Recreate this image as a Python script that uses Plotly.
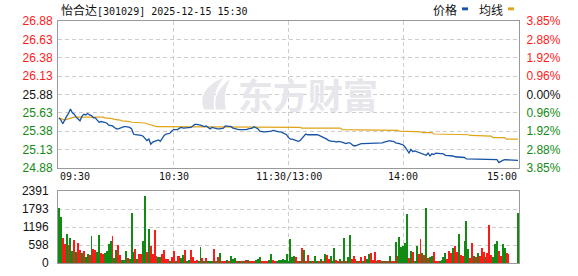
import plotly.graph_objects as go

# ---------------- data ----------------
title_text = "怡合达[301029] 2025-12-15 15:30"
prev_close = 25.88
price_ticks = [26.88, 26.63, 26.38, 26.13, 25.88, 25.63, 25.38, 25.13, 24.88]
pct_labels = ["3.85%", "2.88%", "1.92%", "0.96%", "0.00%", "0.96%", "1.92%", "2.88%", "3.85%"]
vol_ticks = [0, 598, 1196, 1793, 2391]
time_labels = ["09:30", "10:30", "11:30/13:00", "14:00", "15:00"]
time_label_idx = [0, 60, 120, 180, 240]

price = [
    25.56, 25.53, 25.48, 25.54, 25.58, 25.62, 25.68, 25.63, 25.61, 25.57,
    25.54, 25.52, 25.58, 25.61, 25.60, 25.62, 25.60, 25.59, 25.56, 25.56,
    25.53, 25.50, 25.51, 25.50, 25.49, 25.49, 25.46, 25.46, 25.45, 25.43,
    25.41, 25.41, 25.42, 25.44, 25.44, 25.44, 25.44, 25.43, 25.41, 25.34,
    25.33, 25.33, 25.33, 25.32, 25.31, 25.28, 25.25, 25.27, 25.20, 25.23,
    25.24, 25.25, 25.26, 25.24, 25.28, 25.32, 25.34, 25.34, 25.35, 25.38,
    25.40, 25.40, 25.40, 25.42, 25.43, 25.42, 25.42, 25.42, 25.42, 25.43,
    25.45, 25.47, 25.47, 25.47, 25.46, 25.45, 25.44, 25.45, 25.43, 25.41,
    25.43, 25.42, 25.41, 25.41, 25.41, 25.41, 25.42, 25.45, 25.45, 25.45,
    25.44, 25.42, 25.41, 25.40, 25.40, 25.40, 25.40, 25.39, 25.40, 25.41,
    25.41, 25.42, 25.44, 25.43, 25.41, 25.38, 25.37, 25.37, 25.37, 25.37,
    25.38, 25.38, 25.39, 25.38, 25.37, 25.37, 25.37, 25.36, 25.35, 25.33,
    25.29, 25.27, 25.27, 25.26, 25.24, 25.24, 25.25, 25.28, 25.31, 25.34,
    25.33, 25.33, 25.34, 25.34, 25.34, 25.33, 25.32, 25.31, 25.30, 25.28,
    25.27, 25.25, 25.24, 25.24, 25.24, 25.23, 25.24, 25.24, 25.23, 25.22,
    25.21, 25.22, 25.22, 25.20, 25.18, 25.18, 25.19, 25.21, 25.21, 25.21,
    25.21, 25.22, 25.22, 25.21, 25.21, 25.22, 25.22, 25.21, 25.21, 25.22,
    25.23, 25.24, 25.25, 25.25, 25.24, 25.24, 25.22, 25.22, 25.21, 25.20,
    25.19, 25.16, 25.12, 25.08, 25.13, 25.10, 25.11, 25.10, 25.09, 25.08,
    25.08, 25.07, 25.05, 25.08, 25.04, 25.07, 25.06, 25.08, 25.08, 25.08,
    25.08, 25.07, 25.05, 25.05, 25.05, 25.04, 25.04, 25.03, 25.03, 25.03,
    25.03, 25.03, 25.02, 25.00, 25.00, 25.00, 25.00, 25.00, 25.00, 24.99,
    24.99, 24.99, 24.99, 24.99, 24.99, 24.99, 24.99, 24.99, 24.99, 24.99,
    24.95, 24.97, 24.98, 24.99, 24.99, 24.99, 24.99, 24.99, 24.99, 24.99,
    24.98,
]

avg_price = [
    25.56, 25.55, 25.53, 25.53, 25.54, 25.55, 25.56, 25.56, 25.57, 25.57,
    25.57, 25.57, 25.57, 25.58, 25.58, 25.58, 25.58, 25.58, 25.58, 25.58,
    25.57, 25.57, 25.57, 25.57, 25.56, 25.56, 25.55, 25.55, 25.55, 25.54,
    25.54, 25.53, 25.53, 25.52, 25.52, 25.51, 25.51, 25.51, 25.50, 25.50,
    25.50, 25.50, 25.49, 25.49, 25.49, 25.49, 25.48, 25.47, 25.46, 25.45,
    25.44, 25.44, 25.44, 25.44, 25.44, 25.44, 25.44, 25.44, 25.44, 25.44,
    25.44, 25.44, 25.44, 25.44, 25.44, 25.43, 25.43, 25.43, 25.43, 25.43,
    25.43, 25.43, 25.43, 25.43, 25.44, 25.44, 25.44, 25.44, 25.44, 25.44,
    25.44, 25.44, 25.44, 25.44, 25.44, 25.44, 25.43, 25.43, 25.43, 25.43,
    25.43, 25.43, 25.43, 25.43, 25.43, 25.43, 25.43, 25.43, 25.43, 25.43,
    25.43, 25.43, 25.43, 25.43, 25.43, 25.43, 25.43, 25.43, 25.43, 25.43,
    25.43, 25.43, 25.43, 25.43, 25.43, 25.43, 25.43, 25.43, 25.43, 25.43,
    25.43, 25.43, 25.43, 25.43, 25.43, 25.43, 25.43, 25.42, 25.42, 25.42,
    25.42, 25.42, 25.42, 25.42, 25.42, 25.42, 25.42, 25.42, 25.42, 25.42,
    25.42, 25.42, 25.42, 25.42, 25.42, 25.42, 25.42, 25.42, 25.40, 25.40,
    25.40, 25.40, 25.40, 25.40, 25.40, 25.40, 25.40, 25.39, 25.39, 25.39,
    25.39, 25.39, 25.39, 25.39, 25.39, 25.39, 25.39, 25.39, 25.39, 25.39,
    25.39, 25.39, 25.39, 25.39, 25.39, 25.39, 25.39, 25.39, 25.38, 25.38,
    25.38, 25.38, 25.38, 25.37, 25.37, 25.37, 25.37, 25.37, 25.37, 25.37,
    25.36, 25.36, 25.36, 25.36, 25.36, 25.36, 25.34, 25.34, 25.34, 25.34,
    25.34, 25.34, 25.34, 25.34, 25.34, 25.34, 25.34, 25.34, 25.33, 25.33,
    25.33, 25.33, 25.33, 25.33, 25.33, 25.32, 25.32, 25.32, 25.32, 25.32,
    25.31, 25.31, 25.31, 25.31, 25.31, 25.31, 25.31, 25.29, 25.29, 25.29,
    25.29, 25.29, 25.29, 25.29, 25.27, 25.27, 25.27, 25.27, 25.27, 25.27,
    25.27,
]

volume = [
    1838, 1528, 830, 642, 974, 598, 841, 398, 775, 365,
    664, 443, 332, 398, 199, 299, 277, 897, 465, 432,
    365, 930, 332, 299, 332, 398, 642, 731, 897, 166,
    432, 598, 266, 100, 100, 398, 166, 133, 1660, 365,
    465, 133, 299, 299, 731, 2230, 365, 1129, 565, 299,
    1096, 232, 199, 199, 299, 432, 133, 133, 66, 199,
    398, 33, 232, 232, 177, 266, 432, 33, 100, 432,
    199, 66, 100, 66, 531, 166, 33, 166, 66, 33,
    33, 465, 66, 199, 332, 66, 33, 66, 100, 33,
    232, 133, 166, 33, 66, 33, 66, 33, 100, 100,
    33, 33, 33, 100, 133, 199, 66, 33, 33, 33,
    100, 299, 100, 33, 66, 100, 100, 133, 100, 299,
    50, 797, 199, 232, 199, 66, 33, 498, 432, 33,
    266, 33, 66, 33, 232, 66, 33, 133, 33, 299,
    266, 133, 232, 33, 498, 100, 66, 133, 66, 830,
    33, 199, 930, 133, 232, 133, 33, 33, 199, 66,
    232, 133, 299, 332, 100, 365, 33, 100, 100, 33,
    33, 66, 33, 232, 66, 33, 697, 232, 863, 531,
    565, 664, 1627, 166, 398, 365, 33, 565, 299, 797,
    332, 266, 1826, 166, 199, 232, 365, 33, 33, 33,
    100, 199, 332, 133, 398, 332, 498, 565, 365, 963,
    266, 232, 731, 1395, 465, 166, 664, 232, 199, 332,
    232, 498, 365, 199, 332, 1262, 266, 199, 631, 731,
    398, 232, 631, 498, 332, 299, 0, 0, 0, 0,
    1660,
]

# 1 = up minute (red bar), 0 = down minute (green bar)
vol_up = [
    0, 0, 1, 1, 0, 1, 0, 0, 1, 0,
    1, 1, 0, 1, 0, 0, 1, 0, 1, 1,
    0, 0, 1, 1, 0, 0, 0, 0, 1, 0,
    0, 1, 1, 0, 0, 0, 1, 0, 0, 0,
    1, 0, 1, 1, 0, 0, 1, 0, 1, 1,
    1, 1, 0, 0, 1, 1, 1, 1, 0, 1,
    1, 0, 1, 1, 0, 0, 1, 0, 0, 1,
    1, 1, 1, 0, 0, 1, 0, 1, 0, 0,
    0, 1, 0, 1, 0, 1, 1, 1, 0, 1,
    0, 0, 0, 1, 0, 1, 0, 1, 1, 0,
    1, 1, 1, 0, 0, 0, 1, 1, 1, 1,
    0, 0, 1, 1, 0, 0, 0, 0, 0, 0,
    0, 0, 0, 0, 1, 1, 0, 1, 0, 1,
    1, 0, 0, 1, 0, 0, 1, 0, 1, 0,
    1, 1, 0, 0, 0, 1, 1, 0, 1, 0,
    1, 0, 0, 1, 1, 1, 0, 1, 1, 0,
    1, 0, 0, 1, 1, 1, 0, 1, 1, 0,
    1, 0, 1, 0, 1, 1, 0, 1, 0, 0,
    0, 0, 0, 1, 0, 1, 0, 0, 1, 1,
    0, 1, 0, 1, 0, 0, 1, 1, 1, 0,
    0, 0, 0, 1, 1, 1, 0, 1, 1, 0,
    1, 1, 0, 0, 0, 1, 1, 0, 1, 0,
    1, 1, 1, 0, 1, 1, 1, 0, 0, 0,
    1, 1, 0, 0, 1, 1, 0, 0, 0, 0,
    0,
]

# ---------------- styling ----------------
W, H = 578, 276
ML, MR, MT, MB = 58, 59, 21, 6
PLOT_H = H - MT - MB
PLOT_W = W - ML - MR
PRICE_BOTTOM_PX = 172
VOL_TOP_PX = 196

RED = "#ff1a1a"
GREEN = "#138a13"
BLUE = "#1653a6"
GOLD = "#e0a418"
GRID = "#cdcdcd"
BORDER = "#9a9a9a"
WATER = "#e6e6eb"
DASH = "4px,3px"

minutes = list(range(len(price)))
n = len(price)


def py(px):  # pixel y (from top) -> paper y
    return (H - MB - px) / PLOT_H


def pxx(px):  # pixel x -> paper x
    return (px - ML) / PLOT_W


def price_color(p):
    if abs(p - prev_close) < 1e-9:
        return "#111111"
    return RED if p > prev_close else GREEN


left_text = [f'<span style="color:{price_color(p)}">{p:.2f}</span>' for p in price_ticks]
right_text = [f'<span style="color:{price_color(p)}">{t}</span>' for p, t in zip(price_ticks, pct_labels)]

fig = go.Figure()
fig.add_trace(go.Scatter(x=minutes, y=avg_price, mode="lines", line=dict(color=GOLD, width=1.2),
                         xaxis="x", yaxis="y", hoverinfo="skip", showlegend=False))
fig.add_trace(go.Scatter(x=minutes, y=price, mode="lines", line=dict(color=BLUE, width=1.3),
                         xaxis="x", yaxis="y", hoverinfo="skip", showlegend=False))
fig.add_trace(go.Scatter(x=[minutes[0]], y=[price[0]], mode="markers", opacity=0,
                         xaxis="x", yaxis="y3", hoverinfo="skip", showlegend=False))
fig.add_trace(go.Bar(x=minutes, y=volume, xaxis="x2", yaxis="y2",
                     marker=dict(color=[RED if u else GREEN for u in vol_up], line=dict(width=0)),
                     width=0.5, hoverinfo="skip", showlegend=False))

tick_font = dict(family="Liberation Sans, Arial", size=12, color="#111111")
common_x = dict(range=[-0.5, n - 0.5], tickvals=time_label_idx[1:-1], showticklabels=False,
                showgrid=True, gridcolor=GRID, griddash=DASH, gridwidth=1, zeroline=False,
                showline=True, mirror=True, linecolor=BORDER, linewidth=1, ticks="")

fig.update_layout(
    width=W, height=H,
    margin=dict(l=ML, r=MR, t=MT, b=MB),
    paper_bgcolor="white", plot_bgcolor="white",
    showlegend=False, bargap=0,
    xaxis=dict(domain=[0, 1], anchor="y", **common_x),
    xaxis2=dict(domain=[0, 1], anchor="y2", matches="x", **common_x),
    yaxis=dict(domain=[py(PRICE_BOTTOM_PX), 1], anchor="x", range=[price_ticks[-1], price_ticks[0]],
               tickvals=price_ticks, ticktext=left_text, tickfont=tick_font,
               showgrid=True, gridcolor=GRID, griddash=DASH, zeroline=False,
               showline=True, mirror=True, linecolor=BORDER, linewidth=1,
               ticks="outside", ticklen=2, tickcolor="rgba(0,0,0,0)"),
    yaxis3=dict(overlaying="y", side="right", anchor="x", range=[price_ticks[-1], price_ticks[0]],
                tickvals=price_ticks, ticktext=right_text, tickfont=tick_font,
                showgrid=False, zeroline=False, showline=False,
                ticks="outside", ticklen=4, tickcolor="rgba(0,0,0,0)"),
    yaxis2=dict(domain=[0, py(VOL_TOP_PX)], anchor="x2", range=[vol_ticks[0], vol_ticks[-1]],
                tickvals=vol_ticks, ticktext=[str(v) for v in vol_ticks], tickfont=tick_font,
                showgrid=True, gridcolor=GRID, griddash=DASH, zeroline=False,
                showline=True, mirror=True, linecolor=BORDER, linewidth=1,
                ticks="outside", ticklen=6, tickcolor="rgba(0,0,0,0)"),
)

annotations = []
# title
annotations.append(dict(
    text=f'<span style="font-family:Noto Sans CJK SC;font-size:12px">{title_text[:3]}</span>{title_text[3:]}',
    xref="paper", yref="paper", x=pxx(59), y=py(9), xanchor="left", yanchor="middle",
    showarrow=False, font=dict(family="DejaVu Sans Mono", size=10, color="#111111")))
# legend
annotations.append(dict(text="价格", xref="paper", yref="paper", x=pxx(431), y=py(9),
                        xanchor="left", yanchor="middle", showarrow=False,
                        font=dict(family="Noto Sans CJK SC", size=12, color="#111111")))
annotations.append(dict(text="均线", xref="paper", yref="paper", x=pxx(477), y=py(9),
                        xanchor="left", yanchor="middle", showarrow=False,
                        font=dict(family="Noto Sans CJK SC", size=12, color="#111111")))
# time labels under the price panel
anchors = ["left", "center", "center", "center", "right"]
for lab, idx, anc in zip(time_labels, time_label_idx, anchors):
    xv = idx
    if anc == "left":
        xv = -0.5
    elif anc == "right":
        xv = n - 0.5
    annotations.append(dict(text=lab, xref="x", yref="paper", x=xv, y=py(181),
                            xanchor=anc, yanchor="middle", showarrow=False,
                            font=dict(family="DejaVu Sans Mono", size=10, color="#111111")))
# watermark text
annotations.append(dict(text="<b>东方财富</b>", xref="paper", yref="paper", x=pxx(307.5), y=py(96),
                        xanchor="center", yanchor="middle", showarrow=False,
                        font=dict(family="Noto Sans CJK SC", size=35, color=WATER)))
fig.update_layout(annotations=annotations)


def ppath(points):
    segs = []
    for cmd, pts in points:
        coords = " ".join(f"{pxx(x):.4f},{py(y):.4f}" for x, y in pts)
        segs.append(f"{cmd} {coords}")
    return " ".join(segs) + " Z"


# watermark logo (swoosh)
fig.add_shape(type="path", xref="paper", yref="paper", layer="above",
              path=ppath([("M", [(204, 112)]), ("Q", [(196, 92), (224, 79)]),
                          ("Q", [(212, 93), (214, 112)])]),
              fillcolor=WATER, line=dict(width=0))
fig.add_shape(type="path", xref="paper", yref="paper", layer="above",
              path=ppath([("M", [(216, 112)]), ("Q", [(212, 95), (230, 81)]),
                          ("Q", [(222, 96), (226, 112)])]),
              fillcolor=WATER, line=dict(width=0))

# legend markers
fig.add_shape(type="rect", xref="paper", yref="paper", x0=pxx(462), x1=pxx(468), y0=py(10), y1=py(7),
              fillcolor=BLUE, line=dict(width=0))
fig.add_shape(type="rect", xref="paper", yref="paper", x0=pxx(508), x1=pxx(514), y0=py(10), y1=py(7),
              fillcolor=GOLD, line=dict(width=0))

fig.write_html("out.html")
